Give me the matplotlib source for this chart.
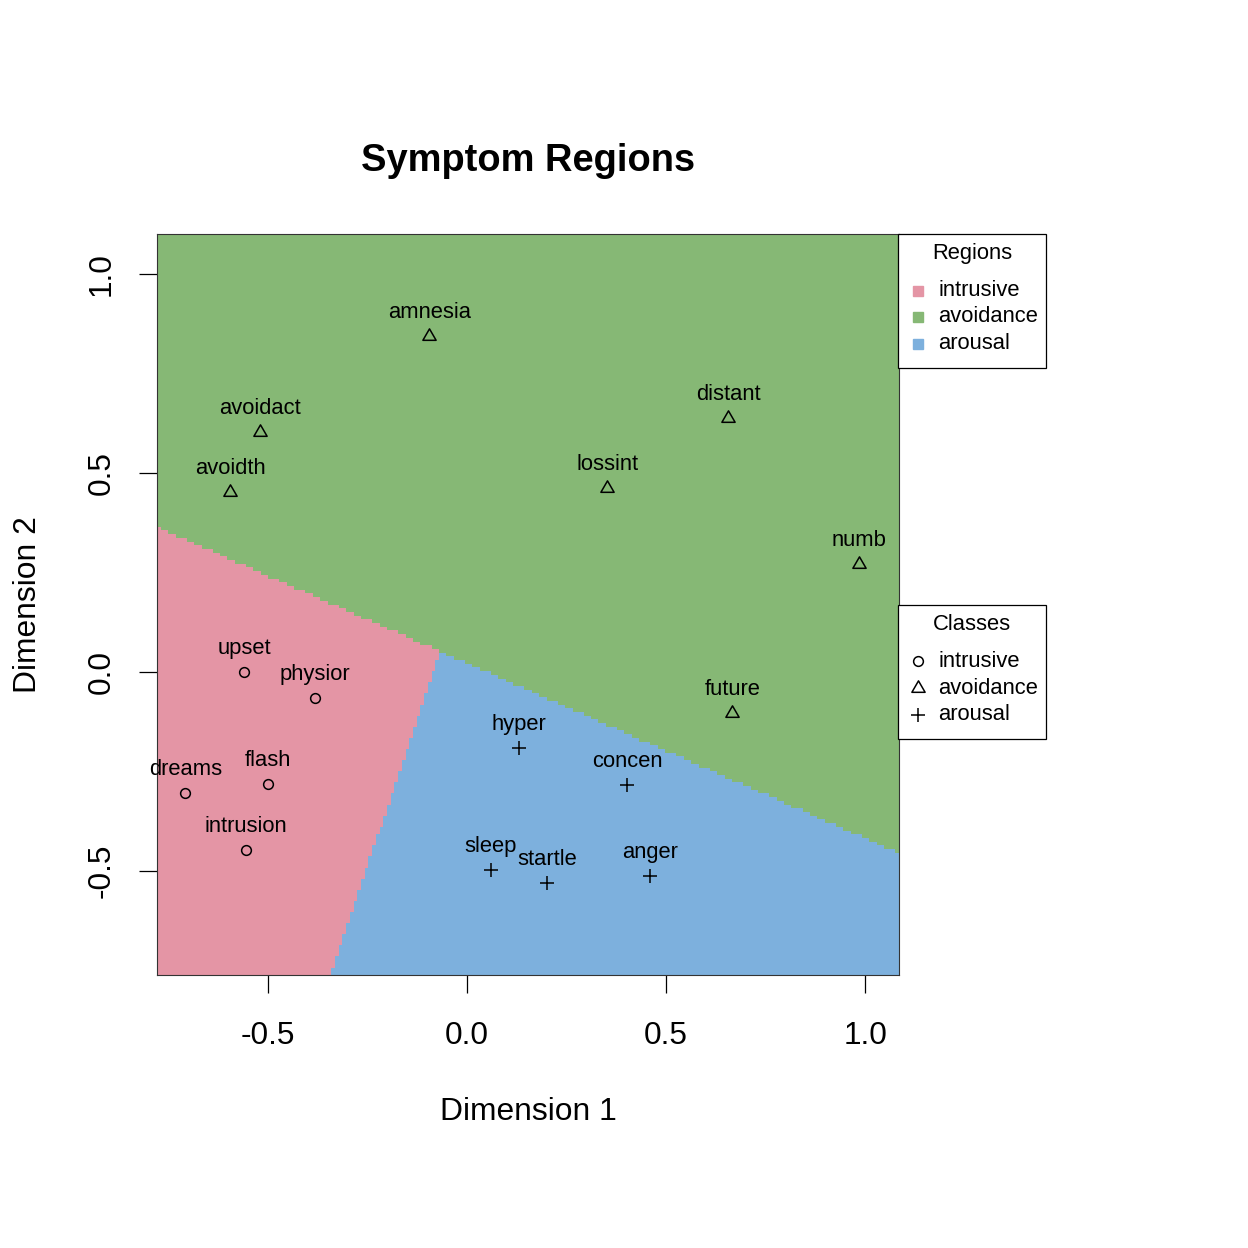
import numpy as np
import matplotlib
matplotlib.use("Agg")
import matplotlib.pyplot as plt
from matplotlib.colors import ListedColormap
from matplotlib.patches import Rectangle
from matplotlib.path import Path

# symptom coordinates
symptoms = ["upset", "physior", "flash", "dreams", "intrusion",
            "amnesia", "avoidact", "avoidth", "lossint", "distant", "numb", "future",
            "hyper", "concen", "sleep", "startle", "anger"]
dim1 = [-0.560, -0.382, -0.500, -0.708, -0.555,
        -0.095, -0.520, -0.595, 0.352, 0.656, 0.985, 0.666,
        0.131, 0.402, 0.060, 0.201, 0.460]
dim2 = [0.000, -0.065, -0.281, -0.304, -0.447,
        0.844, 0.603, 0.452, 0.462, 0.638, 0.271, -0.103,
        -0.191, -0.284, -0.497, -0.530, -0.513]
cluster = ["intrusive"] * 5 + ["avoidance"] * 7 + ["arousal"] * 5
class_names = ["intrusive", "avoidance", "arousal"]
region_colors = ["#E495A5", "#86B875", "#7DB0DD"]

# region boundaries
# avoidance above: dim2 = a + b * dim1
avoid_edge = (0.0217, -0.4394)
# intrusive left of arousal: dim1 = c + d * dim2
arousal_edge = (-0.0854, 0.3375)
x_range = (-0.779, 1.085)
y_range = (-0.761, 1.100)
n_grid = 200

plt.rcParams["font.family"] = ["Liberation Sans", "DejaVu Sans"]

# equilateral triangle like R's pch=2
tri = Path([(0, 1), (-0.866, -0.5), (0.866, -0.5), (0, 1)],
           [Path.MOVETO, Path.LINETO, Path.LINETO, Path.CLOSEPOLY])
markers = {"intrusive": dict(marker="o", ms=7.0),
           "avoidance": dict(marker=tri, ms=11.0),
           "arousal": dict(marker="+", ms=9.5)}

# classify a grid of cells into the three regions
dx = (x_range[1] - x_range[0]) / n_grid
dy = (y_range[1] - y_range[0]) / n_grid
gx = x_range[0] + (np.arange(n_grid) + 0.5) * dx
gy = y_range[0] + (np.arange(n_grid) + 0.5) * dy
GX, GY = np.meshgrid(gx, gy)
region = np.where(GX < arousal_edge[0] + arousal_edge[1] * GY, 0, 2)
region[GY > avoid_edge[0] + avoid_edge[1] * GX] = 1

fig = plt.figure(figsize=(12.48, 12.48), dpi=100)
ax = fig.add_axes([157 / 1248, 1 - 975 / 1248, 742 / 1248, 741 / 1248])

ax.imshow(region, origin="lower", extent=[x_range[0], x_range[1], y_range[0], y_range[1]],
          cmap=ListedColormap(region_colors), vmin=-0.5, vmax=2.5,
          interpolation="nearest", aspect="auto")

for name, x, y, c in zip(symptoms, dim1, dim2, cluster):
    mk = markers[c]
    ax.plot(x, y, linestyle="none", marker=mk["marker"], ms=mk["ms"],
            mfc="none", mec="black", mew=1.1)
    ax.annotate(name, (x, y), xytext=(0, 13), textcoords="offset points",
                ha="center", va="baseline", fontsize=15.8)

ax.set_xlim(*x_range)
ax.set_ylim(*y_range)
ax.set_xticks([-0.5, 0.0, 0.5, 1.0])
ax.set_yticks([-0.5, 0.0, 0.5, 1.0])
ax.set_xticklabels(["-0.5", "0.0", "0.5", "1.0"])
ax.set_yticklabels(["-0.5", "0.0", "0.5", "1.0"])
ax.tick_params(direction="out", length=13, width=0.9, labelsize=22.7)
ax.tick_params(axis="x", pad=20)
ax.tick_params(axis="y", labelrotation=90, pad=16)
for lbl in ax.get_yticklabels():
    lbl.set_va("center")
for sp in ax.spines.values():
    sp.set_linewidth(0.8)
    sp.set_color("#333333")

ax.set_xlabel("Dimension 1", fontsize=22.9, va="center")
ax.xaxis.set_label_coords(0.5, -0.185)
ax.set_ylabel("Dimension 2", fontsize=22.9, va="center")
ax.yaxis.set_label_coords(-0.174, 0.5)
ax.text(0.5, 1.099, "Symptom Regions", transform=ax.transAxes, ha="center",
        va="center", fontsize=27.4, fontweight="bold")


def fxy(px, py):
    return px / 1248, 1 - py / 1248


def draw_key(top, title, entries):
    left, right = 898, 1046
    x0, y0 = fxy(left, top + 134)
    fig.add_artist(Rectangle((x0, y0), (right - left) / 1248, 134 / 1248,
                             transform=fig.transFigure, facecolor="white",
                             edgecolor="black", linewidth=0.9))
    tx, ty = fxy((left + right) / 2, top + 20)
    fig.text(tx, ty, title, ha="center", va="center", fontsize=15.8)
    for i, (label, style) in enumerate(entries):
        mx, my = fxy(918, top + 56.5 + 26.5 * i)
        fig.add_artist(plt.Line2D([mx], [my], transform=fig.transFigure, **style))
        lx, _ = fxy(938, 0)
        fig.text(lx, my, label, ha="left", va="center", fontsize=15.8)


draw_key(234, "Regions",
         [(c, dict(marker="s", ms=6.5, mfc=col, mec=col, linestyle="none"))
          for c, col in zip(class_names, region_colors)])
draw_key(605, "Classes",
         [(c, dict(marker=markers[c]["marker"], ms=markers[c]["ms"], mfc="none",
                   mec="black", mew=1.1, linestyle="none"))
          for c in class_names])

fig.savefig("out.png", dpi=100, facecolor="white")
